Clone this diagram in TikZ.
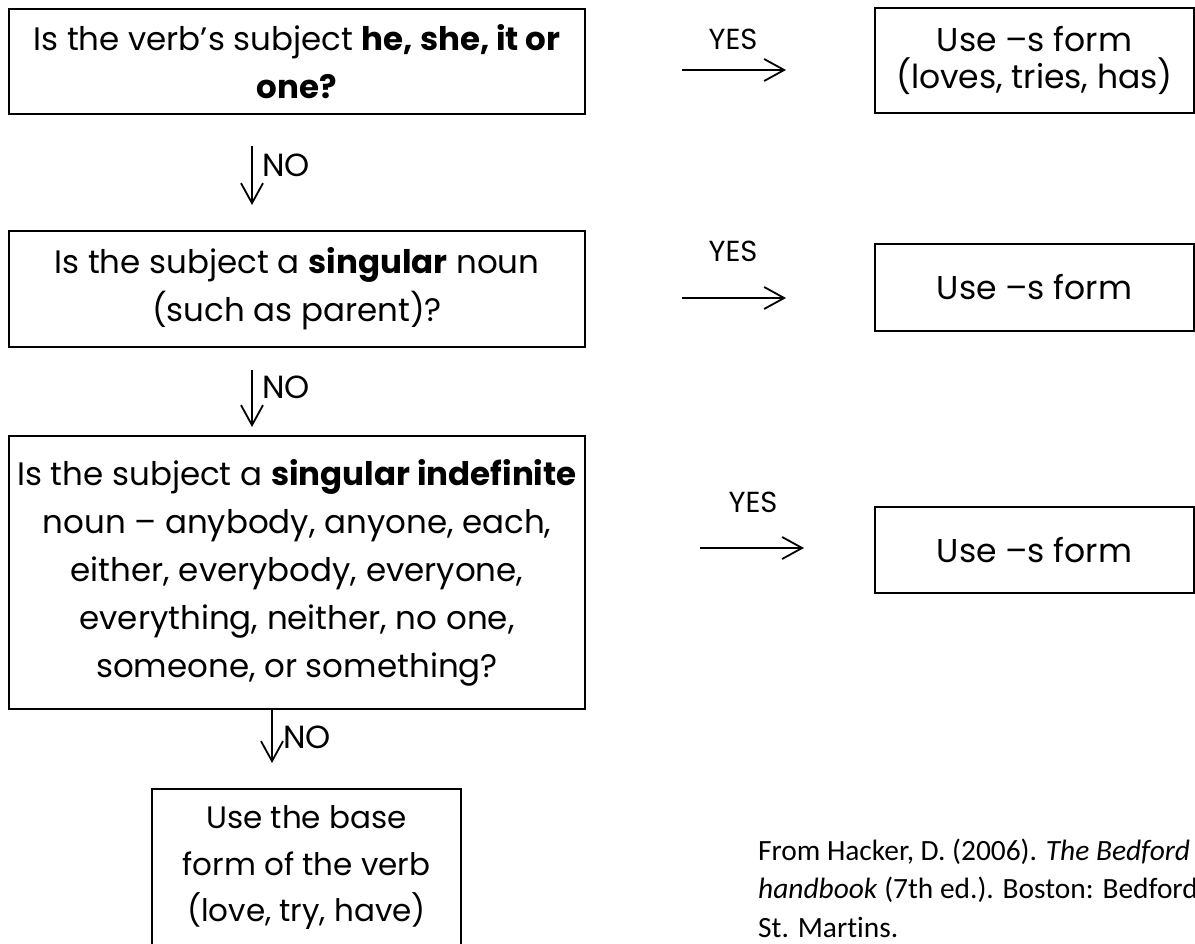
\documentclass[tikz,border=0pt]{standalone}
\usepackage{fontspec}
\setmainfont{Poppins}
\newfontfamily\citefont{Carlito}[Ligatures=NoCommon]
\usetikzlibrary{arrows.meta}
\begin{document}
\begin{tikzpicture}[x=1pt,y=-1pt,
  box/.style={draw=black, line width=1.8pt, inner sep=0pt, align=center},
  qtext/.style={font=\fontsize{32.5}{48}\selectfont},
  atext/.style={font=\fontsize{33}{37}\selectfont},
  lbl/.style={font=\fontsize{29}{30}\selectfont, inner sep=0pt},
  nolbl/.style={font=\fontsize{32}{34}\selectfont, inner sep=0pt, anchor=base west},
  cite/.style={font=\citefont\fontsize{29.4}{38.5}\selectfont, inner sep=0pt, anchor=base west},
  flow/.style={line width=1.8pt, -{Straight Barb[length=20pt,width=22pt,line width=1.8pt]}}
]
\useasboundingbox (0,0) rectangle (1195,944);

% question boxes
\node[box, qtext, minimum width=576pt, minimum height=105pt] (q1) at (297,61.5)
  {Is the verb’s subject \textbf{he, she, it or}\\ \textbf{one?}};
\node[box, qtext, minimum width=576pt, minimum height=116pt] (q2) at (297,289)
  {Is the subject a \textbf{singular} noun\\ (such as parent)?};
\node[box, qtext, minimum width=576pt, minimum height=273pt] (q3) at (297,572.5)
  {Is the subject a \textbf{singular indefinite}\\ noun – anybody, anyone, each,\\ either, everybody, everyone,\\ everything, neither, no one,\\ someone, or something?};
\node[box, font=\fontsize{31}{46.5}\selectfont, minimum width=309pt, minimum height=158pt] (q4) at (306.5,868)
  {Use the base\\ form of the verb\\ (love, try, have)};

% answer boxes
\node[box, atext, minimum width=319pt, minimum height=105pt] (a1) at (1034.5,60.5)
  {Use –s form\\ (loves, tries, has)};
\node[box, atext, minimum width=319pt, minimum height=87pt] (a2) at (1034.5,287.5)
  {Use –s form};
\node[box, atext, minimum width=319pt, minimum height=86pt] (a3) at (1034.5,550)
  {Use –s form};

% YES arrows
\coordinate (y1s) at (682,70);  \coordinate (y1e) at (786,70);
\coordinate (y2s) at (682,298); \coordinate (y2e) at (786,298);
\coordinate (y3s) at (700,548); \coordinate (y3e) at (804,548);
\draw[flow] (y1s) -- (y1e);
\draw[flow] (y2s) -- (y2e);
\draw[flow] (y3s) -- (y3e);
\node[lbl, anchor=base] (yes1) at (733,50) {YES};
\node[lbl, anchor=base] (yes2) at (733,262) {YES};
\node[lbl, anchor=base] (yes3) at (753,512) {YES};

% NO arrows
\coordinate (n1s) at (252,146); \coordinate (n1e) at (252,205);
\coordinate (n2s) at (252,370); \coordinate (n2e) at (252,427);
\coordinate (n3s) at (272,710); \coordinate (n3e) at (272,763);
\draw[flow] (n1s) -- (n1e);
\draw[flow] (n2s) -- (n2e);
\draw[flow] (n3s) -- (n3e);
\node[nolbl] (no1) at (262,177) {NO};
\node[nolbl] (no2) at (262,398) {NO};
\node[nolbl] (no3) at (283,748) {NO};

% citation
\node[cite] (c1) at (758,860) {From Hacker, D. (2006). \textit{The Bedford}};
\node[cite] (c2) at (758,898.5) {\textit{handbook} (7th ed.). Boston: Bedford/};
\node[cite] (c3) at (758,937) {St. Martins.};
\end{tikzpicture}
\end{document}
